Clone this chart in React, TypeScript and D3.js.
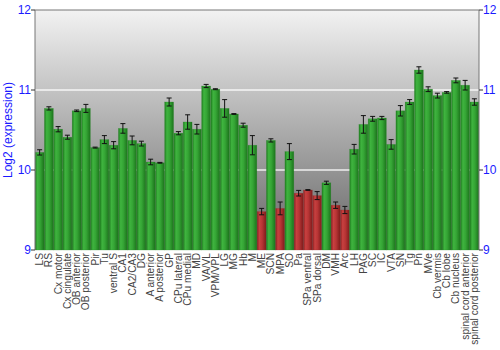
import React from "react";
import * as d3 from "d3";

const categories = ["LS","RS","Cx motor","Cx cingulate","OB anterior","OB posterior","Pir","Tu","ventral S","CA1","CA2/CA3","DG","A anterior","A posterior","GP","CPu lateral","CPu medial","MD","VA/VL","VPM/VPL","LG","MG","Hb","M","ME","SCN","MPA","SO","Pa","SPa ventral","SPa dorsal","DM","VMH","Arc","LH","PAG","SC","IC","VTA","SN","Tg","Pn","MVe","Cb vermis","Cb lobe","Cb nucleus","spinal cord anterior","spinal cord posterior"];
const values = [10.22,10.77,10.51,10.41,10.74,10.77,10.28,10.38,10.31,10.52,10.37,10.33,10.10,10.09,10.85,10.46,10.60,10.51,11.05,11.01,10.77,10.70,10.56,10.31,9.48,10.37,9.52,10.23,9.71,9.75,9.68,9.84,9.56,9.50,10.26,10.57,10.64,10.65,10.32,10.74,10.85,11.25,11.01,10.93,10.97,11.12,11.06,10.85];
const errors = [0.033,0.02,0.033,0.025,0.01,0.05,0.006,0.05,0.045,0.06,0.055,0.03,0.035,0.005,0.05,0.02,0.09,0.06,0.02,0.006,0.11,0.005,0.025,0.12,0.04,0.02,0.08,0.1,0.035,0.005,0.05,0.02,0.04,0.045,0.06,0.11,0.03,0.02,0.06,0.065,0.03,0.04,0.03,0.03,0.01,0.03,0.06,0.04];
const redCategories = ["ME","MPA","Pa","SPa ventral","SPa dorsal","VMH","Arc"];
const yTicks = [9, 10, 11, 12];
const yTitle = "Log2 (expression)";

const W = 500, H = 350;
const left = 35, right = 479, top = 10, bottom = 250;
const FONT = "'Liberation Sans', Arial, sans-serif";

export default function App() {
  const x = d3.scaleBand<string>().domain(categories).range([left, right]).paddingInner(0.04).paddingOuter(0.02);
  const y = d3.scaleLinear().domain([9, 12]).range([bottom, top]);
  const blue = "#1a1aff";
  return (
    <svg width={W} height={H} style={{ position: "absolute", left: 0, top: 0, background: "#fff" }}>
      <defs>
        <linearGradient id="bg" x1="0" y1="0" x2="0" y2="1">
          <stop offset="0" stopColor="#f2f2f2" />
          <stop offset="1" stopColor="#666666" />
        </linearGradient>
        <linearGradient id="gG" x1="0" y1="0" x2="1" y2="0">
          <stop offset="0" stopColor="#1f7d1f" />
          <stop offset="0.25" stopColor="#3fb43f" />
          <stop offset="0.55" stopColor="#35a535" />
          <stop offset="1" stopColor="#1c741c" />
        </linearGradient>
        <linearGradient id="gR" x1="0" y1="0" x2="1" y2="0">
          <stop offset="0" stopColor="#8a2020" />
          <stop offset="0.25" stopColor="#c84040" />
          <stop offset="0.55" stopColor="#b83535" />
          <stop offset="1" stopColor="#7f1c1c" />
        </linearGradient>
      </defs>
      <rect x={left} y={top} width={right - left} height={bottom - top} fill="url(#bg)" />
      {[10, 11].map((t) => (
        <line key={t} x1={left} x2={right} y1={y(t)} y2={y(t)} stroke="#ffffff" strokeWidth={1.5} opacity={0.85} />
      ))}
      {categories.map((c, i) => {
        const bx = x(c)!;
        const bw = x.bandwidth();
        const red = redCategories.includes(c);
        return (
          <rect key={c} x={bx} y={y(values[i])} width={bw} height={bottom - y(values[i])}
            fill={red ? "url(#gR)" : "url(#gG)"} stroke={red ? "#9a3030" : "#2a8a2a"} strokeOpacity={0.5} strokeWidth={0.5} />
        );
      })}
      {categories.map((c, i) => {
        const cx = x(c)! + x.bandwidth() / 2;
        const y1 = y(values[i] + errors[i]);
        const y2 = y(values[i] - errors[i]);
        return (
          <g key={"e" + c} stroke="#111" strokeWidth={1}>
            <line x1={cx} x2={cx} y1={y1} y2={y2} />
            <line x1={cx - 2.5} x2={cx + 2.5} y1={y1} y2={y1} />
            <line x1={cx - 2.5} x2={cx + 2.5} y1={y2} y2={y2} />
          </g>
        );
      })}
      <line x1={left} x2={right} y1={top} y2={top} stroke="#777" />
      <line x1={left} x2={left} y1={top} y2={bottom} stroke="#777" />
      <line x1={right} x2={right} y1={top} y2={bottom} stroke="#777" />
      {yTicks.map((t) => (
        <g key={"t" + t}>
          <line x1={left - 4} x2={left} y1={y(t)} y2={y(t)} stroke="#333" />
          <line x1={right} x2={right + 4} y1={y(t)} y2={y(t)} stroke="#333" />
          <text x={left - 4} y={y(t)} dy="0.35em" textAnchor="end" fill={blue} fontSize={12} fontFamily={FONT}>{t}</text>
          <text x={right + 4} y={y(t)} dy="0.35em" textAnchor="start" fill={blue} fontSize={12} fontFamily={FONT}>{t}</text>
        </g>
      ))}
      <text transform={`translate(12,${(top + bottom) / 2}) rotate(-90)`} textAnchor="middle" fill={blue} fontSize={12} fontFamily={FONT}>{yTitle}</text>
      {categories.map((c) => {
        const cx = x(c)! + x.bandwidth() / 2;
        return (
          <text key={"l" + c} transform={`translate(${cx},${bottom + 3}) rotate(-90)`} dy="0.35em" textAnchor="end" fill="#444" fontSize={10.2} fontFamily={FONT}>{c}</text>
        );
      })}
    </svg>
  );
}
